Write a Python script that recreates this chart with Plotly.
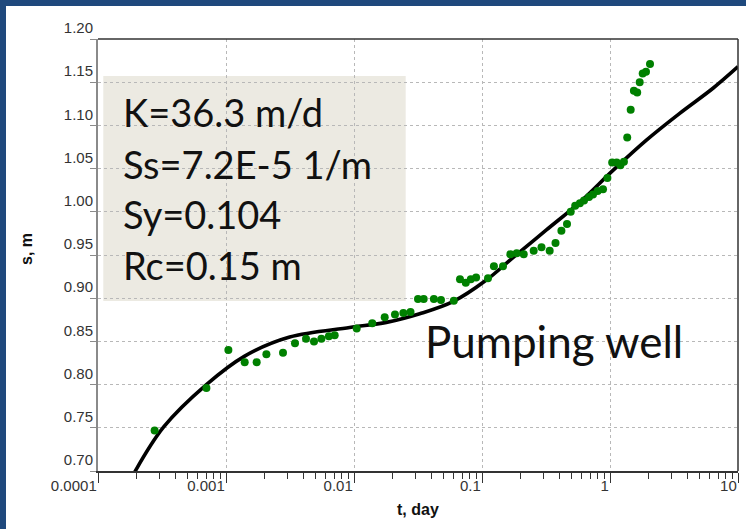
import plotly.graph_objects as go

# ---------------- data ----------------
obs_t = [0.000277, 0.000703, 0.001044, 0.00140, 0.001737, 0.002068, 0.002788, 0.003459,
         0.004217, 0.004870, 0.005563, 0.006366, 0.007065, 0.01050, 0.01388, 0.01737,
         0.02090, 0.02431, 0.02763, 0.03162, 0.03503, 0.04209, 0.04781, 0.06020,
         0.06730, 0.07469, 0.08176, 0.08993, 0.1114, 0.1239, 0.1459, 0.1667, 0.1867,
         0.2118, 0.2534, 0.2916, 0.3379, 0.3752, 0.4172, 0.4614, 0.4932, 0.5347,
         0.5817, 0.6264, 0.6853, 0.7364, 0.8015, 0.8818, 0.9543, 1.040, 1.128, 1.206,
         1.284, 1.363, 1.451, 1.537, 1.631, 1.706, 1.801, 1.911, 2.054]
obs_s = [0.747, 0.796, 0.840, 0.826, 0.826, 0.835, 0.837, 0.848, 0.853, 0.850, 0.853,
         0.856, 0.857, 0.865, 0.871, 0.878, 0.881, 0.883, 0.884, 0.899, 0.899, 0.899,
         0.898, 0.897, 0.922, 0.918, 0.922, 0.924, 0.923, 0.937, 0.937, 0.951, 0.952,
         0.951, 0.955, 0.959, 0.955, 0.964, 0.978, 0.986, 1.000, 1.007, 1.010, 1.013,
         1.017, 1.020, 1.024, 1.026, 1.039, 1.057, 1.057, 1.054, 1.058, 1.086, 1.118,
         1.140, 1.138, 1.150, 1.160, 1.162, 1.171]

fit_t = [0.000194, 0.000326, 0.000703, 0.001400, 0.003146, 0.009256, 0.01791, 0.0326,
         0.05934, 0.1082, 0.1746, 0.3185, 0.5798, 1.055, 1.925, 3.504, 6.378, 10.0]
fit_s = [0.699, 0.751, 0.800, 0.833, 0.855, 0.866, 0.872, 0.882, 0.896, 0.921, 0.947,
         0.979, 1.011, 1.048, 1.083, 1.114, 1.143, 1.168]

x_tickvals = [0.0001, 0.001, 0.01, 0.1, 1, 10]
x_ticktext = ["0.0001", "0.001", "0.01", "0.1", "1", "10"]
y_tickvals = [0.70, 0.75, 0.80, 0.85, 0.90, 0.95, 1.00, 1.05, 1.10, 1.15, 1.20]
y_ticktext = ["0.70", "0.75", "0.80", "0.85", "0.90", "0.95", "1.00", "1.05", "1.10", "1.15", "1.20"]
minor_vals = [m * 10.0 ** e for e in range(-4, 1) for m in range(2, 10)]

param_lines = ["K=36.3 m/d", "Ss=7.2E-5 1/m", "Sy=0.104", "Rc=0.15 m"]
well_label = "Pumping well"

# ---------------- figure ----------------
W, H = 746, 529
ML, MR, MT, MB = 98, 8, 39, 58
PW, PH = W - ML - MR, H - MT - MB


def px_x(X):
    return (X - ML) / PW


def px_y(Y):
    return (H - MB - Y) / PH


fig = go.Figure()
fig.add_trace(go.Scatter(x=fit_t, y=fit_s, mode="lines",
                         line=dict(color="black", width=3.6, shape="spline", smoothing=1.0),
                         showlegend=False, hoverinfo="skip"))
fig.add_trace(go.Scatter(x=obs_t, y=obs_s, mode="markers",
                         marker=dict(color="#008000", size=8, line=dict(width=0)),
                         showlegend=False))

tick_font = dict(family="Liberation Sans, Arial, sans-serif", size=15, color="#333333")

fig.update_xaxes(type="log", range=[-4, 1], tickmode="array", tickvals=x_tickvals,
                 ticktext=x_ticktext, ticks="outside", ticklen=10, tickcolor="#333333",
                 tickwidth=1, ticklabelposition="outside left", tickfont=tick_font,
                 showline=True, linecolor="#333333", linewidth=1.5,
                 showgrid=True, gridcolor="#b8b8b8", gridwidth=1, griddash="3px,3px",
                 zeroline=False,
                 minor=dict(tickmode="array", tickvals=minor_vals, ticks="outside",
                            ticklen=6, tickcolor="#333333", showgrid=False))
fig.update_yaxes(range=[0.70, 1.20], tickmode="array", tickvals=y_tickvals,
                 ticktext=y_ticktext, ticks="outside", ticklen=6, tickcolor="#8a8a8a",
                 ticklabelposition="outside top", tickfont=tick_font,
                 showline=True, linecolor="#8a8a8a", linewidth=2,
                 showgrid=True, gridcolor="#b8b8b8", gridwidth=1, griddash="3px,3px",
                 zeroline=False)

shapes = [
    # parameter box
    dict(type="rect", xref="paper", yref="paper", layer="between",
         x0=px_x(103.3), x1=px_x(405.7), y0=px_y(301), y1=px_y(76),
         fillcolor="#ECEAE2", line=dict(width=0)),
    # top / right border
    dict(type="line", xref="paper", yref="paper", x0=0, x1=1, y0=1, y1=1,
         line=dict(color="#333333", width=1.5), layer="above"),
    dict(type="line", xref="paper", yref="paper", x0=1, x1=1, y0=0, y1=1,
         line=dict(color="#333333", width=1.5), layer="above"),
    # dark blue frame (top and left)
    dict(type="rect", xref="paper", yref="paper", x0=px_x(0), x1=px_x(W), y0=px_y(6), y1=px_y(-2),
         fillcolor="#1F497D", line=dict(width=0), layer="above"),
    dict(type="rect", xref="paper", yref="paper", x0=px_x(-2), x1=px_x(6), y0=px_y(H + 2), y1=px_y(0),
         fillcolor="#1F497D", line=dict(width=0), layer="above"),
]

annotations = []
box_font = dict(family="Lato, Open Sans, sans-serif", size=38, color="#111111")
for i, line in enumerate(param_lines):
    yc = [112, 163.5, 213.5, 265][i]
    annotations.append(dict(text=line, xref="paper", yref="paper", x=px_x(121), y=px_y(yc),
                            xanchor="left", yanchor="middle", showarrow=False, font=box_font))
annotations.append(dict(text=well_label, xref="paper", yref="paper", x=px_x(423), y=px_y(341),
                        xanchor="left", yanchor="middle", showarrow=False,
                        font=dict(family="Lato, Open Sans, sans-serif", size=44, color="#111111")))
annotations.append(dict(text="<b>t, day</b>", xref="paper", yref="paper", x=px_x(418), y=px_y(510),
                        xanchor="center", yanchor="middle", showarrow=False,
                        font=dict(family="Liberation Sans, Arial, sans-serif", size=16, color="#111111")))
annotations.append(dict(text="<b>s, m</b>", xref="paper", yref="paper", x=px_x(26), y=px_y(249),
                        xanchor="center", yanchor="middle", showarrow=False, textangle=-90,
                        font=dict(family="Liberation Sans, Arial, sans-serif", size=16, color="#111111")))

fig.update_layout(width=W, height=H, margin=dict(l=ML, r=MR, t=MT, b=MB),
                  paper_bgcolor="white", plot_bgcolor="white",
                  shapes=shapes, annotations=annotations, showlegend=False)

fig.write_html("out.html")
